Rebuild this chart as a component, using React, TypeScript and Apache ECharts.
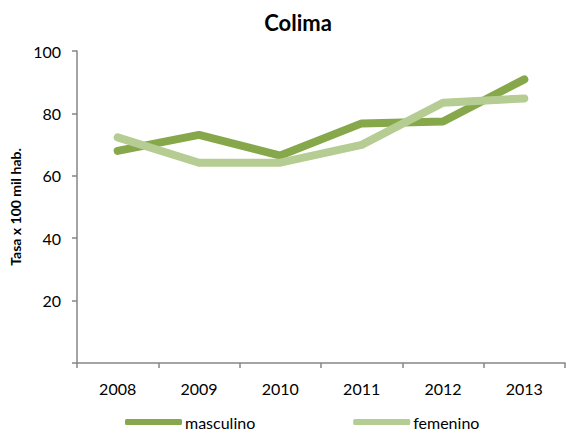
import React, { useEffect, useRef } from "react";
import * as echarts from "echarts";

const years = ["2008", "2009", "2010", "2011", "2012", "2013"];
const masculino = [68.0, 73.1, 66.5, 76.8, 77.4, 90.9];
const femenino = [72.3, 64.2, 64.2, 69.9, 83.4, 84.8];

export default function App() {
  const ref = useRef<HTMLDivElement>(null);
  useEffect(() => {
    if (!ref.current) return;
    const chart = echarts.init(ref.current, undefined, { renderer: "svg" });
    const font = "Lato, 'Open Sans', sans-serif";
    chart.setOption({
      animation: false,
      backgroundColor: "#ffffff",
      title: {
        text: "Colima",
        left: 293,
        textAlign: "center",
        top: 6,
        textStyle: { fontFamily: font, fontSize: 22, fontWeight: "bold", color: "#000" },
      },
      legend: {
        left: 120,
        top: 409,
        icon: "roundRect",
        itemWidth: 57,
        itemHeight: 6,
        itemGap: 98,
        textStyle: { fontFamily: font, fontSize: 16, color: "#000", padding: [0, 0, 0, -2] },
        data: ["masculino", "femenino"],
      },
      grid: { left: 77, right: 1, top: 51, bottom: 71, containLabel: false },
      xAxis: {
        type: "category",
        data: years,
        boundaryGap: true,
        axisLine: { lineStyle: { color: "#868686", width: 1.5 } },
        axisTick: { show: true, length: 5, alignWithLabel: false, lineStyle: { color: "#868686", width: 1.5 } },
        axisLabel: { fontFamily: font, fontSize: 16, color: "#000", margin: 17 },
      },
      yAxis: {
        type: "value",
        min: 0,
        max: 100,
        interval: 20,
        name: "Tasa x 100 mil hab.",
        nameLocation: "middle",
        nameGap: 54,
        nameTextStyle: { fontFamily: font, fontSize: 14, fontWeight: "bold", color: "#000" },
        axisLine: { show: true, lineStyle: { color: "#868686", width: 1.5 } },
        axisTick: { show: true, length: 5, lineStyle: { color: "#868686", width: 1.5 } },
        splitLine: { show: false },
        axisLabel: {
          fontFamily: font,
          fontSize: 16,
          color: "#000",
          margin: 16,
          formatter: (v: number) => (v === 0 ? "" : String(v)),
        },
      },
      series: [
        {
          name: "masculino",
          type: "line",
          data: masculino,
          symbol: "none",
          color: "#86a84a",
          lineStyle: { width: 8, color: "#86a84a", cap: "round", join: "round" },
        },
        {
          name: "femenino",
          type: "line",
          data: femenino,
          symbol: "none",
          color: "#b5cc93",
          lineStyle: { width: 8, color: "#b5cc93", cap: "round", join: "round" },
        },
      ],
    });
    return () => chart.dispose();
  }, []);
  return <div ref={ref} style={{ width: 566, height: 434, position: "absolute", left: 0, top: 0 }} />;
}
